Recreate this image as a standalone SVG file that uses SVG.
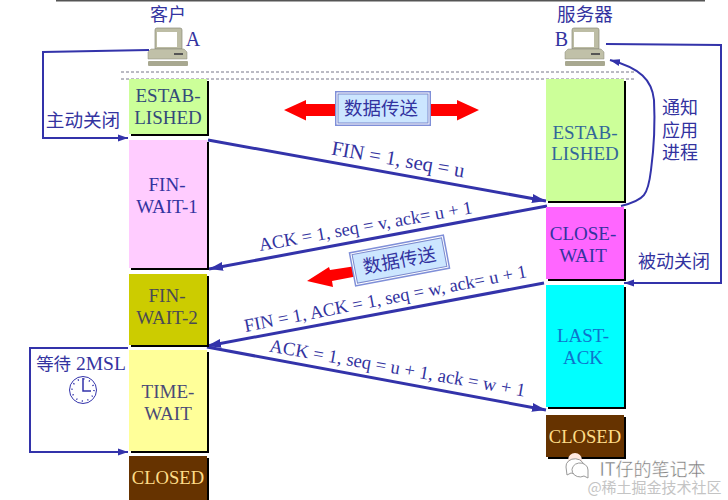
<svg xmlns="http://www.w3.org/2000/svg" width="728" height="500" viewBox="0 0 728 500">
<style>
text{font-family:"Liberation Serif","Noto Sans CJK SC",serif;fill:#3333a0;font-size:20px;text-anchor:middle}
.cjk{font-family:"Noto Sans CJK SC","Liberation Serif",sans-serif;font-size:18px}
.sh{fill:#000}
.c{fill:none;stroke:#3333aa;stroke-width:2}
.t{fill:none;stroke:#3333aa;stroke-width:3}
.dash{stroke:#778;stroke-width:1;stroke-dasharray:3 2}
.st{font-size:19px}
.cl{font-size:18.6px;fill:#ffdd88}
.lb{font-size:18.4px}
</style>
<defs>
<marker id="a" markerUnits="userSpaceOnUse" markerWidth="14" markerHeight="10" refX="14" refY="5" orient="auto"><path d="M0 .5L14 5L0 9.500Z" fill="#3333aa"/></marker>
<marker id="b" markerUnits="userSpaceOnUse" markerWidth="10" markerHeight="8" refX="10" refY="4" orient="auto"><path d="M0 .5L10 4L0 7.500Z" fill="#3333aa"/></marker>
<g id="pc"><path d="M7 4Q7 2 9 2H32Q34 2 34 4V23H7Z" fill="#bdbda5" stroke="#8a8a78" stroke-width=".7"/><rect x="9" y="6" width="20" height="15" fill="#fff"/><path d="M3 23H36L39 26V33H0V26Z" fill="#c0c0a8" stroke="#8a8a78" stroke-width=".5"/><rect x="26" y="27" width="9" height="2" fill="#555"/><rect x="0" y="35" width="40" height="5" rx="1" fill="#a8a890"/></g>
</defs>
<rect width="728" height="500" fill="#fff"/>
<path d="M56 .5H705" stroke="#555" stroke-width="2"/>
<g id="rules"><path class="dash" d="M121 72H636M121 79H636"/></g>

<g id="connectors">
<path class="c" d="M149 50L43 52V138H128" marker-end="url(#b)"/>
<path class="t" d="M208 140L546 201" marker-end="url(#a)"/>
<path class="t" d="M547 206L209 269" marker-end="url(#a)"/>
<path class="t" d="M544 283L207 346" marker-end="url(#a)"/>
<path class="t" d="M207 347L546 410" marker-end="url(#a)"/>
<path class="c" d="M606 44L721 45V283H624" marker-end="url(#b)"/>
<path class="c" d="M621 206C645 200 648 195 651 170C655 140 655 120 654 100C652 80 640 68 610 60" marker-end="url(#b)"/>
<path class="c" d="M128 348H30V452H128" marker-end="url(#b)"/>
</g>

<g id="clientPC"><use href="#pc" x="148" y="26"/><text class="cjk" x="168" y="21">客户</text><text x="193" y="46">A</text></g>
<g id="serverPC"><use href="#pc" x="565" y="26"/><text class="cjk" x="585" y="21" style="font-size:18.6px">服务器</text><text x="561.500" y="46">B</text></g>

<g id="c-established"><rect class="sh" x="131" y="81" width="78" height="55"/><rect x="129" y="79" width="78" height="55" fill="#ccff99"/><text class="st" x="168" y="102" style="fill:#334a7a">ESTAB-</text><text class="st" x="168" y="124" style="fill:#334a7a">LISHED</text></g>
<g id="c-finwait1"><rect class="sh" x="131" y="142" width="78" height="128"/><rect x="129" y="140" width="78" height="128" fill="#ffccff"/><text class="st" x="167" y="191">FIN-</text><text class="st" x="167" y="213">WAIT-1</text></g>
<g id="c-finwait2"><rect class="sh" x="131" y="276" width="78" height="71"/><rect x="129" y="274" width="78" height="71" fill="#cccc00"/><text class="st" x="167" y="302" style="fill:#4a4a55">FIN-</text><text class="st" x="167" y="324" style="fill:#4a4a55">WAIT-2</text></g>
<g id="c-timewait"><rect class="sh" x="131" y="352" width="78" height="101"/><rect x="129" y="350" width="78" height="101" fill="#ffff99"/><text class="st" x="168" y="398" style="fill:#4a4a77">TIME-</text><text class="st" x="168" y="420" style="fill:#4a4a77">WAIT</text></g>
<g id="c-closed"><rect class="sh" x="131" y="458" width="78" height="42"/><rect x="129" y="456" width="78" height="44" fill="#663300"/><text class="cl" x="168" y="484">CLOSED</text></g>

<g id="s-established"><rect class="sh" x="548" y="81" width="78" height="122"/><rect x="546" y="79" width="78" height="122" fill="#ccff99"/><text class="st" x="585" y="139" style="fill:#336699">ESTAB-</text><text class="st" x="585" y="160" style="fill:#336699">LISHED</text></g>
<g id="s-closewait"><rect class="sh" x="548" y="209" width="78" height="72"/><rect x="546" y="207" width="78" height="72" fill="#ff66ff"/><text class="st" x="583" y="240">CLOSE-</text><text class="st" x="583" y="262">WAIT</text></g>
<g id="s-lastack"><rect class="sh" x="548" y="287" width="78" height="122"/><rect x="546" y="285" width="78" height="122" fill="#00ffff"/><text class="st" x="583" y="342" style="fill:#0f73cc">LAST-</text><text class="st" x="583" y="364" style="fill:#0f73cc">ACK</text></g>
<g id="s-closed"><rect class="sh" x="548" y="417" width="78" height="42"/><rect x="546" y="415" width="78" height="42" fill="#663300"/><text class="cl" x="585" y="443">CLOSED</text></g>

<g id="data1">
<path d="M284 110L306 100V104H457V100L479 110L457 120.500V116H306V120.500Z" fill="#ff0000"/>
<rect x="335" y="91" width="96" height="35" fill="#7f8fd8"/><rect x="336.500" y="92.500" width="93" height="32" fill="#fff"/><rect x="338" y="94" width="90" height="29" fill="#cce6ff" stroke="#7a88cc"/>
<text class="cjk" x="381" y="115" style="font-size:18.5px">数据传送</text>
</g>
<g id="data2">
<path d="M307 281L329 267L330 270L356 266L358 276L332 281L333 287Z" fill="#ff0000"/>
<g transform="rotate(-10.700 399.500 260.500)">
<rect x="351" y="243" width="97" height="35" fill="#7f8fd8"/><rect x="352.500" y="244.500" width="94" height="32" fill="#fff"/><rect x="354" y="246" width="91" height="29" fill="#cce6ff" stroke="#7a88cc"/>
<text class="cjk" x="399.500" y="267" style="font-size:18.5px">数据传送</text>
</g>
</g>

<g id="labels">
<text class="cjk" x="83" y="127" style="font-size:18.600px">主动关闭</text>
<text class="cjk" x="680"><tspan x="680" y="114">通知</tspan><tspan x="680" y="136.500">应用</tspan><tspan x="680" y="159">进程</tspan></text>
<text class="cjk" x="674" y="268">被动关闭</text>
<text x="397" y="166" transform="rotate(9.900 397 166)" style="font-size:20.500px">FIN = 1, seq = u</text>
<text class="lb" x="366.500" y="232" transform="rotate(-10.100 366.500 232)">ACK = 1, seq = v, ack= u + 1</text>
<text class="lb" x="386.500" y="304.500" transform="rotate(-11 386.500 304.500)">FIN = 1, ACK = 1, seq = w, ack= u + 1</text>
<text class="lb" x="396.500" y="374" transform="rotate(10 396.500 374)" style="font-size:18.700px">ACK = 1, seq = u + 1, ack = w + 1</text>
<text x="81" y="370" style="font-size:19.500px"><tspan class="cjk" style="font-size:17.500px">等待</tspan> 2MSL</text>
</g>
<g id="clock" fill="none" stroke="#3333aa"><circle cx="83" cy="390" r="13.500" fill="#fff"/><circle cx="83" cy="390" r="11" stroke-width="1.500" stroke-dasharray="1.200 4.560"/><path d="M83 378V391H91" stroke-width="1.500"/></g>
<g id="watermark">
<g id="wechat" stroke="#999" stroke-width="1"><circle cx="575" cy="460" r="7" fill="#ffe8e0" stroke="none"/><path d="M566 467a9 7.500 0 1 1 5 6l-4 2z" fill="#fff"/><path d="M588 470a8 7 0 1 0-4 6l4 2z" fill="#fff"/></g>
<text x="652.500" y="476" style="font-family:'Noto Sans CJK SC',sans-serif;font-size:18px;fill:#777;stroke:#fff;stroke-width:.4">IT仔的笔记本</text>
<text x="654.500" y="493" style="font-family:'Noto Sans CJK SC',sans-serif;font-size:15px;fill:#c4c4c4">@稀土掘金技术社区</text>
</g>
</svg>
